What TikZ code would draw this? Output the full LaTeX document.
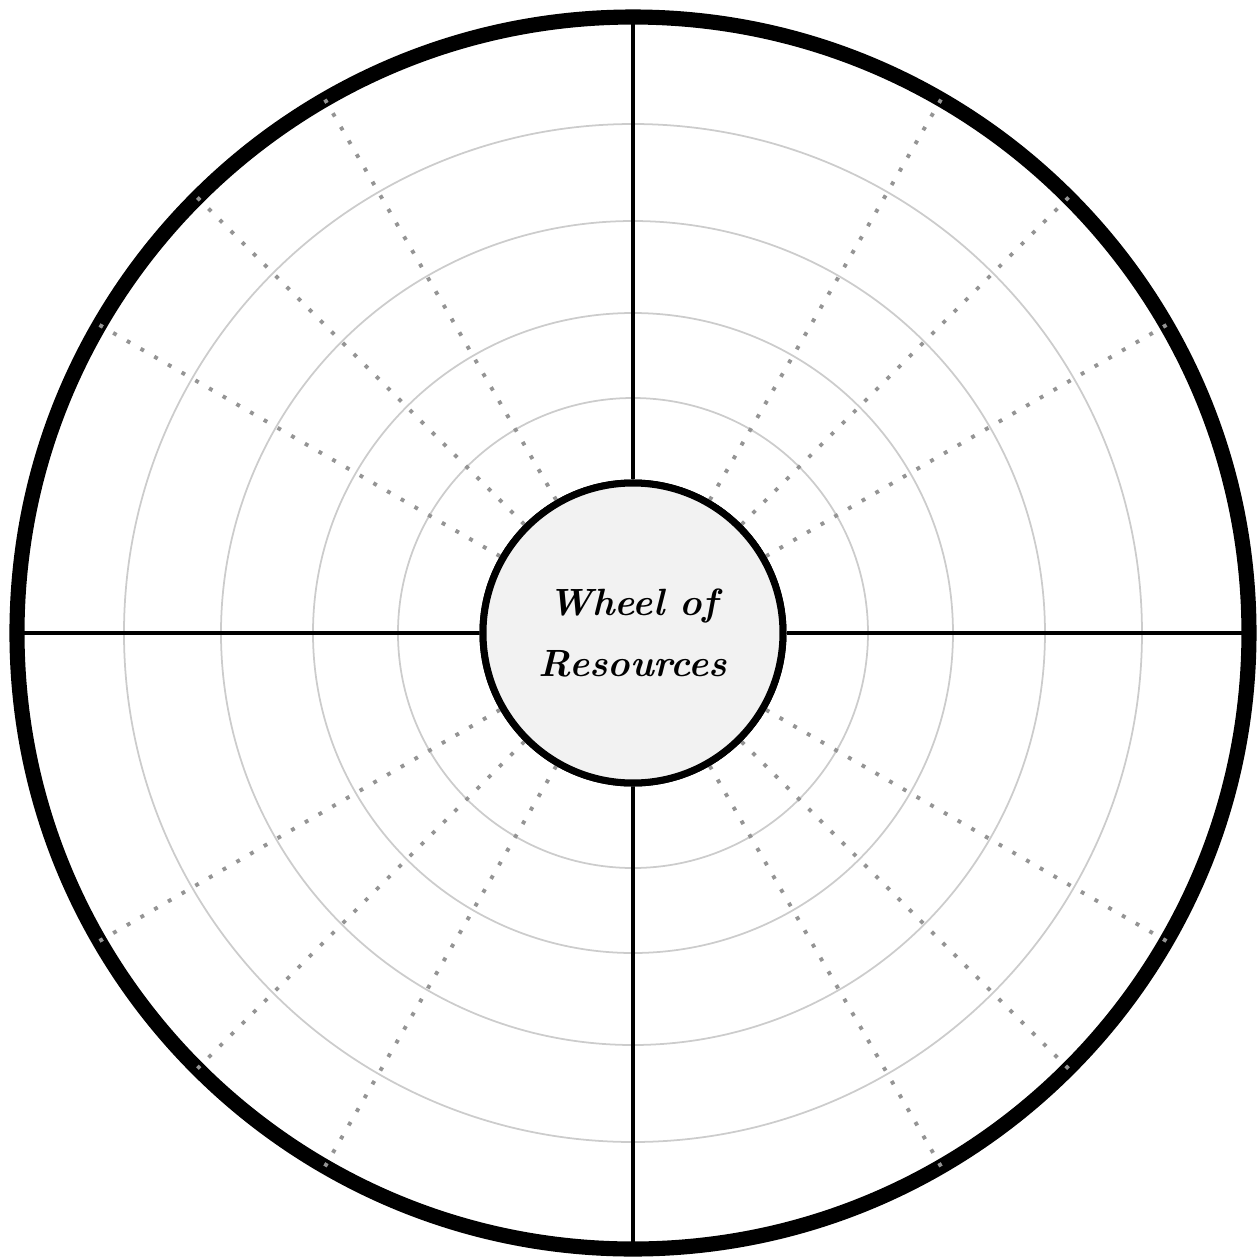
\documentclass[tikz,border=0pt]{standalone}
\usetikzlibrary{calc}
\begin{document}
\begin{tikzpicture}
\tikzset{
  ring/.style={draw=black!20, line width=0.5pt},
  spoke/.style={draw=black, line width=1.15pt},
  dotspoke/.style={draw=black!42, line width=1.1pt, dash pattern=on 1.1pt off 3.4pt},
  rim/.style={draw=black, line width=4.3pt},
  hubstyle/.style={circle, draw=black, line width=2pt, fill=black!5, minimum size=3cm, inner sep=0pt, align=center, font=\bfseries\itshape\fontsize{10.8}{17.5}\selectfont}
}
\useasboundingbox (-6.33,-6.27) rectangle (6.27,6.33);
% rings
\foreach \r/\n in {2.35/r1,3.2/r2,4.12/r3,5.09/r4}{
  \node[ring, circle, minimum size=2*\r cm, inner sep=0pt] (\n) at (0,0) {};
}
% hub
\node[hubstyle] (hub) at (0,0) {Wheel of\\Resources};
% rim coordinates
\foreach \a in {0,30,45,60,90,120,135,150,180,210,225,240,270,300,315,330}{
  \coordinate (o\a) at (\a:6.16);
}
% solid spokes
\foreach \a in {0,90,180,270}{
  \draw[spoke] (hub.\a) -- (o\a);
}
% rim
\node[rim, circle, minimum size=12.32cm, inner sep=0pt] (rimc) at (0,0) {};
% dotted spokes
\foreach \a in {30,45,60,120,135,150,210,225,240,300,315,330}{
  \draw[dotspoke] (hub.\a) -- (o\a);
}
% redraw hub on top
\node[hubstyle] at (0,0) {Wheel of\\Resources};
\end{tikzpicture}
\end{document}
